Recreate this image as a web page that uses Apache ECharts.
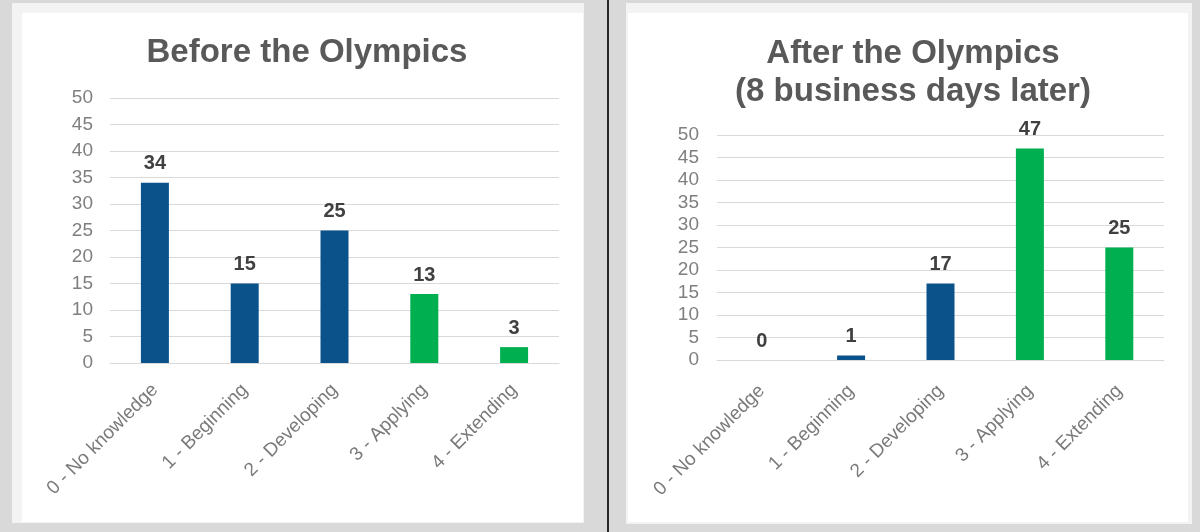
<!DOCTYPE html>
<html>
<head>
<meta charset="utf-8">
<script src="https://cdn.jsdelivr.net/npm/echarts@6/dist/echarts.min.js"></script>
<style>
html,body{margin:0;padding:0;background:#d9d9d9;}
#c{width:1200px;height:532px;}
</style>
</head>
<body>
<div id="c"></div>
<script>
const categories = ['0 - No knowledge', '1 - Beginning', '2 - Developing', '3 - Applying', '4 - Extending'];
const beforeValues = [34, 15, 25, 13, 3];
const afterValues = [0, 1, 17, 47, 25];
const yTicks = {min: 0, max: 50, interval: 5};
const titleBefore = 'Before the Olympics';
const titleAfter = 'After the Olympics\n(8 business days later)';

const BLUE = '#0b528b';
const GREEN = '#00b050';
const FONT = '"Liberation Sans", Arial, sans-serif';

const chart = echarts.init(document.getElementById('c'), null, {renderer: 'canvas'});

function xAxis(gi, margin) {
  return {
    type: 'category', gridIndex: gi, data: categories,
    axisLine: {show: true, lineStyle: {color: '#d9d9d9', width: 1}},
    axisTick: {show: false},
    axisLabel: {rotate: 45, interval: 0, margin: margin, fontSize: 19, color: '#7a7a7a', fontFamily: FONT}
  };
}
function yAxis(gi, margin) {
  return {
    type: 'value', gridIndex: gi, min: yTicks.min, max: yTicks.max, interval: yTicks.interval,
    axisLine: {show: false}, axisTick: {show: false},
    splitLine: {lineStyle: {color: '#d9d9d9', width: 1}},
    axisLabel: {margin: margin, fontSize: 19, color: '#7f7f7f', fontFamily: FONT}
  };
}
function series(gi, values) {
  return {
    type: 'bar', xAxisIndex: gi, yAxisIndex: gi, data: values, barWidth: 28,
    itemStyle: {color: p => p.dataIndex < 3 ? BLUE : GREEN},
    label: {show: true, position: 'top', distance: 9, fontSize: 20, fontWeight: 'bold', color: '#404040', fontFamily: FONT},
    silent: true
  };
}

chart.setOption({
  animation: false,
  backgroundColor: '#d9d9d9',
  graphic: [
    {type: 'rect', shape: {x: 12, y: 3, width: 572, height: 520}, style: {fill: '#f3f3f3'}, z: -10},
    {type: 'rect', shape: {x: 22, y: 13, width: 561, height: 509}, style: {fill: '#ffffff'}, z: -9},
    {type: 'rect', shape: {x: 626, y: 3, width: 566, height: 521}, style: {fill: '#f3f3f3'}, z: -10},
    {type: 'rect', shape: {x: 628, y: 13, width: 560, height: 509}, style: {fill: '#ffffff'}, z: -9},
    {type: 'line', shape: {x1: 608, y1: 0, x2: 608, y2: 532}, style: {stroke: '#2a2a2a', lineWidth: 2}, z: -8}
  ],
  title: [
    {text: titleBefore, left: 302, top: 31, textAlign: 'center',
     textStyle: {fontSize: 33, fontWeight: 'bold', color: '#595959', fontFamily: FONT}},
    {text: titleAfter, left: 908, top: 30, textAlign: 'center',
     textStyle: {fontSize: 33, fontWeight: 'bold', color: '#595959', fontFamily: FONT, lineHeight: 38}}
  ],
  grid: [
    {left: 110, right: 641, top: 98, bottom: 169},
    {left: 717, right: 36, top: 135, bottom: 172}
  ],
  xAxis: [xAxis(0, 24), xAxis(1, 28)],
  yAxis: [yAxis(0, 17), yAxis(1, 18)],
  series: [series(0, beforeValues), series(1, afterValues)]
});
</script>
</body>
</html>
